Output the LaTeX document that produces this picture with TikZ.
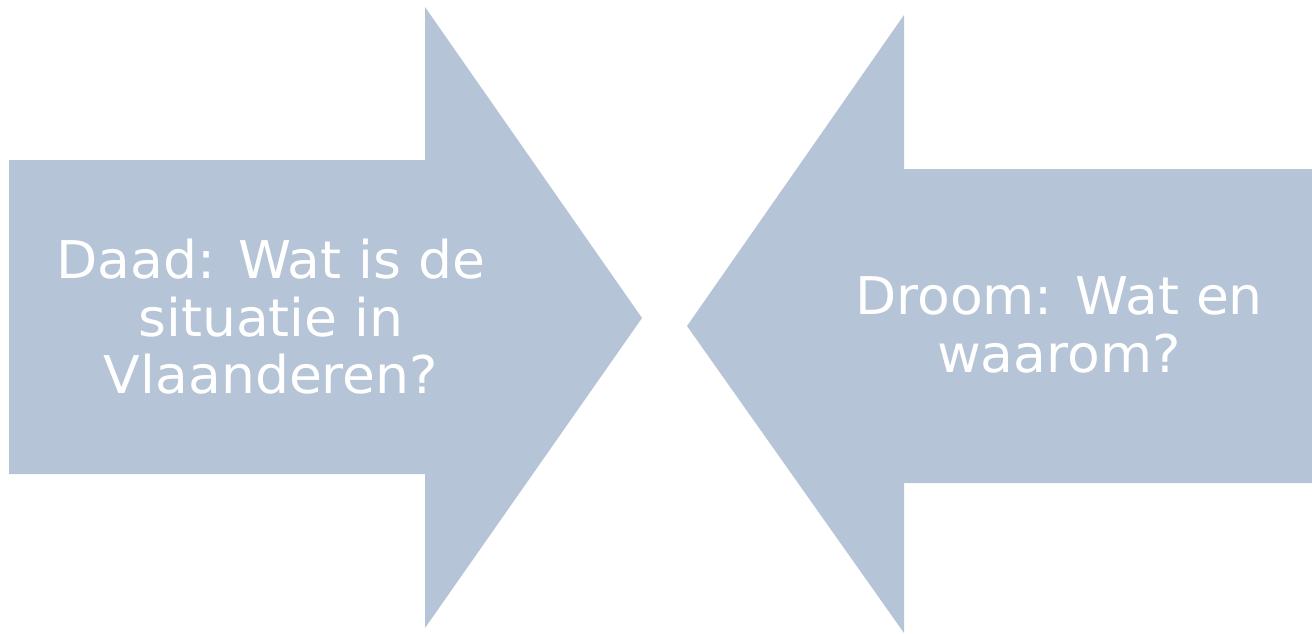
\documentclass[tikz,border=0pt]{standalone}
\usepackage{fontspec}
\setmainfont{DejaVu Sans}[FakeStretch=1.03]
\definecolor{arrowfill}{HTML}{B5C4D7}
\begin{document}
\begin{tikzpicture}[x=1pt,y=-1pt,
  arrowshape/.style={fill=arrowfill,draw=none},
  label/.style={text=white,align=center,font=\fontsize{52}{57.5}\selectfont,inner sep=0}]
\useasboundingbox (0,0) rectangle (1312,633);
\fill[arrowshape] (9,160) -- (425,160) -- (425,7) -- (642,318) -- (425,628) -- (425,474) -- (9,474) -- cycle;
\fill[arrowshape] (1312,169) -- (904,169) -- (904,15) -- (687,326) -- (904,633) -- (904,483) -- (1312,483) -- cycle;
\node[label] (left) at (271,317) {Daad: Wat is de\\situatie in\\Vlaanderen?};
\node[label] (right) at (1059,325) {Droom: Wat en\\waarom?};
\end{tikzpicture}
\end{document}
